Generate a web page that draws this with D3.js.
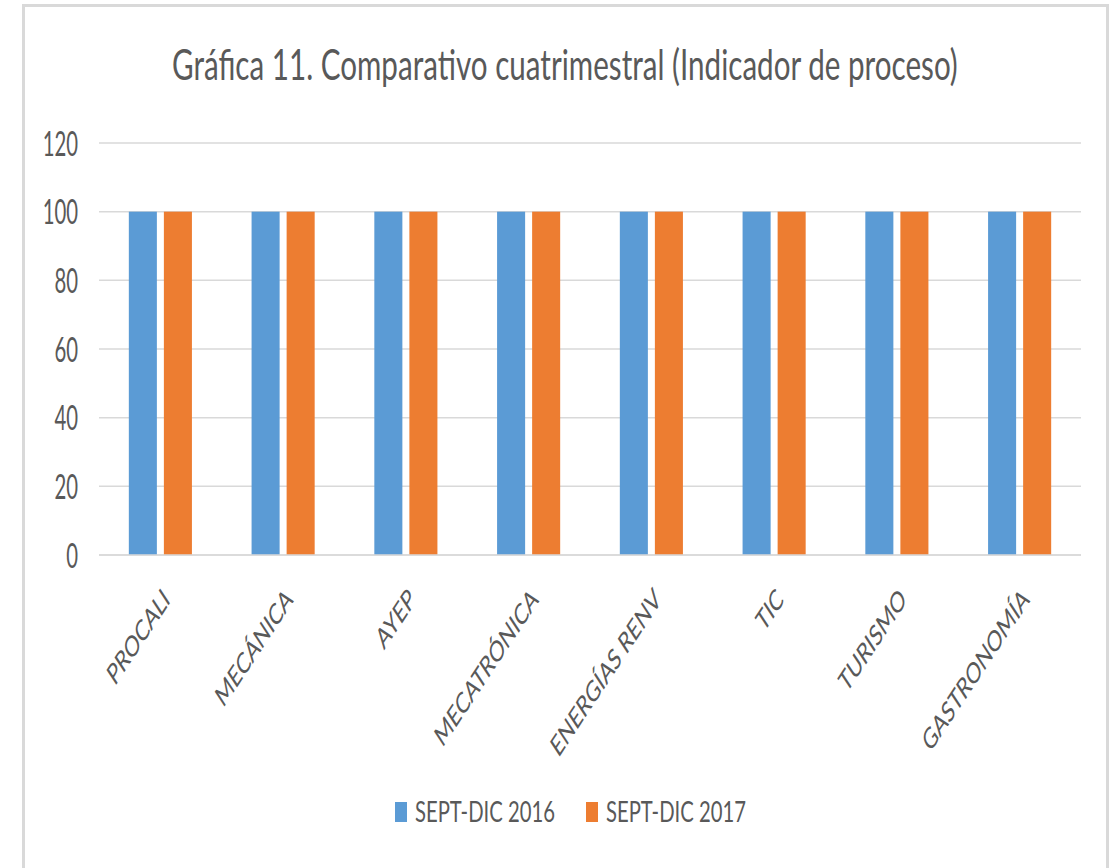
<!DOCTYPE html>
<html>
<head>
<meta charset="utf-8">
<script src="https://cdn.jsdelivr.net/npm/d3@7"></script>
<style>
  body { margin: 0; background: #fff; }
  text { font-family: Lato, "Open Sans", sans-serif; fill: #595959; }
</style>
</head>
<body>
<div id="chart-area"></div>
<script>
// Data ---------------------------------------------------
const categories = ["PROCALI", "MECÁNICA", "AYEP", "MECATRÓNICA", "ENERGÍAS RENV", "TIC", "TURISMO", "GASTRONOMÍA"]
const seriesNames = ["SEPT-DIC 2016", "SEPT-DIC 2017"]
const values2016 = [100, 100, 100, 100, 100, 100, 100, 100]
const values2017 = [100, 100, 100, 100, 100, 100, 100, 100]
const yTicks = [0, 20, 40, 60, 80, 100, 120]
const colors = ["#5b9bd5", "#ed7d31"]
const title = "Gráfica 11. Comparativo cuatrimestral (Indicador de proceso)"

// Canvas setup -----------------------------------------
const WIDTH = 1114
const HEIGHT = 868
const PLOT = {LEFT: 99, RIGHT: 1081, TOP: 143, BOTTOM: 555}
const SX = 0.58   // horizontal squash of the text, as in the picture
const K = 0.66    // squash used for the slanted category labels

const svg = d3.select("#chart-area").append("svg")
  .attr("width", WIDTH)
  .attr("height", HEIGHT)

// chart frame (bottom edge runs off the page)
svg.append("rect")
  .attr("x", 23.5)
  .attr("y", 5.5)
  .attr("width", 1084)
  .attr("height", 920)
  .attr("fill", "#fff")
  .attr("stroke", "#d9d9d9")
  .attr("stroke-width", 3)

// squeeze a horizontal text so that it spans `w` pixels from x
function fitText(sel, x, yPos, w) {
  const len = sel.node().getComputedTextLength()
  sel.attr("transform", `translate(${x}, ${yPos}) scale(${w / len}, 1)`)
}

// title
const titleText = svg.append("text")
  .attr("font-size", 43)
  .text(title)
fitText(titleText, 172, 80, 786)

// Scales ------------------------------------------------
const x0 = d3.scaleBand()
  .domain(categories)
  .range([PLOT.LEFT, PLOT.RIGHT])
  .paddingInner(0.486)
  .paddingOuter(0.243)

const x1 = d3.scaleBand()
  .domain(seriesNames)
  .range([0, x0.bandwidth()])
  .paddingInner(0.2)

const y = d3.scaleLinear()
  .domain([0, 120])
  .range([PLOT.BOTTOM, PLOT.TOP])

// Grid + y labels ---------------------------------------
svg.append("g").selectAll("line")
  .data(yTicks)
  .join("line")
    .attr("x1", PLOT.LEFT)
    .attr("x2", PLOT.RIGHT)
    .attr("y1", d => y(d))
    .attr("y2", d => y(d))
    .attr("stroke", "#d9d9d9")
    .attr("stroke-width", 1.5)

svg.append("g").selectAll("text")
  .data(yTicks)
  .join("text")
    .attr("transform", d => `translate(78, ${y(d)}) scale(${SX}, 1)`)
    .attr("text-anchor", "end")
    .attr("dy", "0.36em")
    .attr("font-size", 35)
    .text(d => d)

// Bars --------------------------------------------------
const rows = categories.map((c, i) => ({cat: c, vals: [values2016[i], values2017[i]]}))

const groups = svg.append("g").selectAll("g")
  .data(rows)
  .join("g")
    .attr("transform", d => `translate(${x0(d.cat)}, 0)`)

groups.selectAll("rect")
  .data(d => d.vals.map((v, j) => ({name: seriesNames[j], v: v, j: j})))
  .join("rect")
    .attr("x", d => x1(d.name))
    .attr("y", d => y(d.v))
    .attr("width", x1.bandwidth())
    .attr("height", d => y(0) - y(d.v))
    .attr("fill", d => colors[d.j])

// baseline on top of the bars
svg.append("line")
  .attr("x1", PLOT.LEFT)
  .attr("x2", PLOT.RIGHT)
  .attr("y1", y(0))
  .attr("y2", y(0))
  .attr("stroke", "#d9d9d9")
  .attr("stroke-width", 1.5)

// Category labels (rotated) ------------------------------
svg.append("g").selectAll("text")
  .data(categories)
  .join("text")
    .attr("transform", d => `translate(${x0(d) + x0.bandwidth() / 2 + 6}, 594) scale(${K}, 1) rotate(-45)`)
    .attr("text-anchor", "end")
    .attr("dy", "0.35em")
    .attr("font-size", 29)
    .text(d => d)

// Legend ------------------------------------------------
const legendX = [395, 586]
const legend = svg.append("g").selectAll("g")
  .data(seriesNames)
  .join("g")
    .attr("transform", (d, i) => `translate(${legendX[i]}, 802)`)

legend.append("rect")
  .attr("width", 12)
  .attr("height", 20)
  .attr("fill", (d, i) => colors[i])

legend.append("text")
  .attr("font-size", 28)
  .text(d => d)
  .each(function () { fitText(d3.select(this), 20, 20, 140) })
</script>
</body>
</html>
